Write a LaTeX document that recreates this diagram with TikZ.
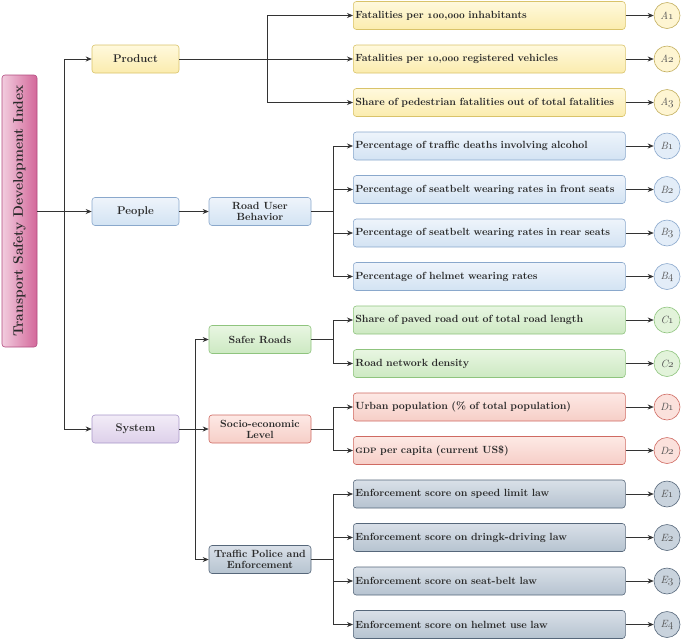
\documentclass[tikz,border=0pt]{standalone}
\usetikzlibrary{arrows.meta}
\definecolor{txt}{HTML}{2A2A2A}
\definecolor{lnc}{HTML}{333333}
\definecolor{yT}{HTML}{FFF9DD}\definecolor{yB}{HTML}{FBECAE}\definecolor{yD}{HTML}{D9C36A}\definecolor{yC}{HTML}{FEF5D2}
\definecolor{bT}{HTML}{EEF4FB}\definecolor{bB}{HTML}{D3E3F3}\definecolor{bD}{HTML}{8AA8CC}\definecolor{bC}{HTML}{E3EDF8}
\definecolor{gT}{HTML}{E8F6E2}\definecolor{gB}{HTML}{CDE9C2}\definecolor{gD}{HTML}{8FC47E}\definecolor{gC}{HTML}{E2F3DA}
\definecolor{rT}{HTML}{FDE9E5}\definecolor{rB}{HTML}{F6CEC7}\definecolor{rD}{HTML}{CF6A62}\definecolor{rC}{HTML}{FBE1DC}
\definecolor{sT}{HTML}{D9E0E8}\definecolor{sB}{HTML}{B6C3D0}\definecolor{sD}{HTML}{56677A}\definecolor{sC}{HTML}{C9D3DD}
\definecolor{pT}{HTML}{F2ECF7}\definecolor{pB}{HTML}{DDD0EA}\definecolor{pD}{HTML}{A896C8}
\definecolor{mL}{HTML}{F2CCDE}\definecolor{mR}{HTML}{D3679A}\definecolor{mD}{HTML}{B24C80}
\tikzset{
  arr/.style={draw=lnc, line width=0.7pt, -{Stealth[length=6pt,width=5pt]}},
  ln/.style={draw=lnc, line width=0.7pt},
  basebox/.style={rounded corners=3pt, line width=0.6pt, text=txt, inner sep=0pt, minimum height=28pt},
  midbox/.style={basebox, font=\fontsize{11.2}{12}\selectfont\bfseries, align=center},
  subbox/.style={midbox, minimum width=102pt, font=\fontsize{10.4}{11.2}\selectfont\bfseries},
  leafbox/.style={basebox, anchor=west, minimum width=272pt, text width=268pt, inner xsep=2pt, align=left, font=\fontsize{10.4}{11}\selectfont\bfseries},
  cbox/.style={circle, line width=0.6pt, minimum size=26pt, inner sep=0pt, text=txt!80, font=\fontsize{10.5}{11}\selectfont\itshape},
  fy/.style={top color=yT, bottom color=yB, draw=yD},
  fb/.style={top color=bT, bottom color=bB, draw=bD},
  fg/.style={top color=gT, bottom color=gB, draw=gD},
  fr/.style={top color=rT, bottom color=rB, draw=rD},
  fs/.style={top color=sT, bottom color=sB, draw=sD},
  fp/.style={top color=pT, bottom color=pB, draw=pD},
  cy/.style={cbox, fill=yC, draw=yD!90!black},
  cb/.style={cbox, fill=bC, draw=bD},
  cg/.style={cbox, fill=gC, draw=gD},
  cr/.style={cbox, fill=rC, draw=rD},
  cs/.style={cbox, fill=sC, draw=sD},
}
\newcommand{\osn}[1]{\mbox{\boldmath$\mathnormal{#1}$}}
\newcommand{\osi}[1]{\mbox{$\mathnormal{#1}$}}
\begin{document}
\begin{tikzpicture}[x=1pt,y=-1pt]
\useasboundingbox (0,0) rectangle (685,641);
% root
\node[basebox, rotate=90, minimum width=272pt, minimum height=35pt, left color=mL, right color=mR, draw=mD,
  font=\fontsize{13.8}{15}\selectfont\bfseries] (root) at (19.5,211) {Transport Safety Development Index};
% level 1
\node[midbox, fy, minimum width=87pt] (product) at (135.5,59) {Product};
\node[midbox, fb, minimum width=87pt] (people) at (135.5,211.5) {People};
\node[midbox, fp, minimum width=87pt] (system) at (135.5,429) {System};
% level 2
\node[subbox, fb] (rub) at (260,211.5) {Road User\\Behavior};
\node[subbox, fg] (safer) at (260,339.5) {Safer Roads};
\node[subbox, fr] (socio) at (260,429) {Socio-economic\\Level};
\node[subbox, fs] (traffic) at (260,559.5) {Traffic Police and\\Enforcement};
% leaves
\node[leafbox, fy] (A1) at (353,15.5) {Fatalities per \osn{100{,}000} inhabitants};
\node[leafbox, fy] (A2) at (353,59) {Fatalities per \osn{10{,}000} registered vehicles};
\node[leafbox, fy] (A3) at (353,102.5) {Share of pedestrian fatalities out of total fatalities};
\node[leafbox, fb] (B1) at (353,146) {Percentage of traffic deaths involving alcohol};
\node[leafbox, fb] (B2) at (353,189.5) {Percentage of seatbelt wearing rates in front seats};
\node[leafbox, fb] (B3) at (353,233) {Percentage of seatbelt wearing rates in rear seats};
\node[leafbox, fb] (B4) at (353,276.5) {Percentage of helmet wearing rates};
\node[leafbox, fg] (C1) at (353,320) {Share of paved road out of total road length};
\node[leafbox, fg] (C2) at (353,363.5) {Road network density};
\node[leafbox, fr] (D1) at (353,407) {Urban population (\% of total population)};
\node[leafbox, fr] (D2) at (353,450.5) {{\fontsize{7.8}{9}\selectfont GDP} per capita (current US\$)};
\node[leafbox, fs] (E1) at (353,494) {Enforcement score on speed limit law};
\node[leafbox, fs] (E2) at (353,537.5) {Enforcement score on dringk-driving law};
\node[leafbox, fs] (E3) at (353,581) {Enforcement score on seat-belt law};
\node[leafbox, fs] (E4) at (353,624.5) {Enforcement score on helmet use law};
% circles
\node[cy] (cA1) at (667,15.5) {A\osi{1}};
\node[cy] (cA2) at (667,59) {A\osi{2}};
\node[cy] (cA3) at (667,102.5) {A\osi{3}};
\node[cb] (cB1) at (667,146) {B\osi{1}};
\node[cb] (cB2) at (667,189.5) {B\osi{2}};
\node[cb] (cB3) at (667,233) {B\osi{3}};
\node[cb] (cB4) at (667,276.5) {B\osi{4}};
\node[cg] (cC1) at (667,320) {C\osi{1}};
\node[cg] (cC2) at (667,363.5) {C\osi{2}};
\node[cr] (cD1) at (667,407) {D\osi{1}};
\node[cr] (cD2) at (667,450.5) {D\osi{2}};
\node[cs] (cE1) at (667,494) {E\osi{1}};
\node[cs] (cE2) at (667,537.5) {E\osi{2}};
\node[cs] (cE3) at (667,581) {E\osi{3}};
\node[cs] (cE4) at (667,624.5) {E\osi{4}};
% junctions
\coordinate (jR) at (64,211.5);
\coordinate (jP) at (267,59);
\coordinate (jB) at (333,211.5);
\coordinate (jS) at (195,429);
\coordinate (jC) at (333,339.5);
\coordinate (jD) at (333,429);
\coordinate (jE) at (333,559.5);
% connectors
\draw[arr] (root.south |- jR) -- (people.west);
\draw[arr] (jR) |- (product.west);
\draw[arr] (jR) |- (system.west);
\draw[arr] (product.east) -- (A2.west);
\draw[arr] (jP) |- (A1.west);
\draw[arr] (jP) |- (A3.west);
\draw[arr] (people.east) -- (rub.west);
\draw[ln] (rub.east) -- (jB);
\foreach \n in {B1,B2,B3,B4} \draw[arr] (jB) |- (\n.west);
\draw[arr] (system.east) -- (socio.west);
\draw[arr] (jS) |- (safer.west);
\draw[arr] (jS) |- (traffic.west);
\draw[ln] (safer.east) -- (jC);
\foreach \n in {C1,C2} \draw[arr] (jC) |- (\n.west);
\draw[ln] (socio.east) -- (jD);
\foreach \n in {D1,D2} \draw[arr] (jD) |- (\n.west);
\draw[ln] (traffic.east) -- (jE);
\foreach \n in {E1,E2,E3,E4} \draw[arr] (jE) |- (\n.west);
\foreach \n in {A1,A2,A3,B1,B2,B3,B4,C1,C2,D1,D2,E1,E2,E3,E4} \draw[arr] (\n.east) -- (c\n.west);
\end{tikzpicture}
\end{document}
